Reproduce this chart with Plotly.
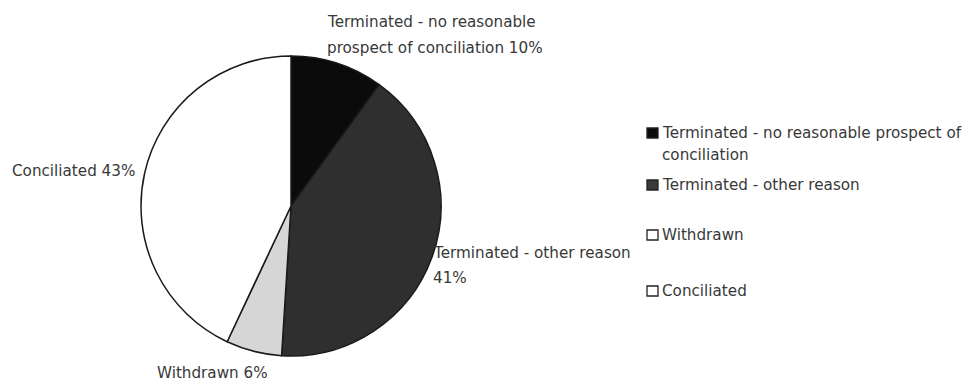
import plotly.graph_objects as go

# Outcome of finalised complaints
categories = [
    "Terminated - no reasonable prospect of conciliation",
    "Terminated - other reason",
    "Withdrawn",
    "Conciliated",
]
shares = [10, 41, 6, 43]
slice_colors = ["#0b0b0b", "#2f2f2f", "#d6d6d6", "#ffffff"]
legend_swatch = ["#0b0b0b", "#3a3a3a", "#ffffff", "#ffffff"]

W, H = 970, 381
FONT = "DejaVu Sans"
TXT = "#383838"
FS = 15.2


def px(x):
    return x / W


def py(y):
    return 1 - y / H


fig = go.Figure(
    go.Pie(
        labels=categories,
        values=shares,
        sort=False,
        direction="clockwise",
        rotation=0,
        textinfo="none",
        hoverinfo="label+percent",
        marker=dict(colors=slice_colors, line=dict(color="#1a1a1a", width=1.5)),
        domain=dict(x=[px(141), px(441)], y=[py(356), py(56)]),
        showlegend=False,
    )
)

annotations = []


def add_text(text, x, y, anchor="left"):
    annotations.append(
        dict(
            text=text, x=px(x), y=py(y), xref="paper", yref="paper",
            xanchor=anchor, yanchor="middle", showarrow=False,
            font=dict(family=FONT, size=FS, color=TXT), align="left",
        )
    )


# Slice labels (category + share)
add_text("Terminated - no reasonable", 325, 22)
add_text(f"prospect of conciliation {shares[0]}%", 325, 48)
add_text("Terminated - other reason", 431, 253)
add_text(f"{shares[1]}%", 431, 278)
add_text(f"{categories[2]} {shares[2]}%", 155, 373)
add_text(f"{categories[3]} {shares[3]}%", 10, 171)

# Legend: swatches with their category names
legend_rows = [
    (["Terminated - no reasonable prospect of", "conciliation"], 133),
    ([categories[1]], 185),
    ([categories[2]], 235),
    ([categories[3]], 291),
]
shapes = []
for (lines, y), fill in zip(legend_rows, legend_swatch):
    shapes.append(
        dict(
            type="rect", xref="paper", yref="paper",
            x0=px(647), x1=px(658), y0=py(y + 5), y1=py(y - 5),
            fillcolor=fill, line=dict(color="#222222", width=1.3),
        )
    )
    for i, line in enumerate(lines):
        add_text(line, 660, y + i * 22)

fig.update_layout(
    width=W,
    height=H,
    margin=dict(l=0, r=0, t=0, b=0),
    paper_bgcolor="#ffffff",
    plot_bgcolor="#ffffff",
    annotations=annotations,
    shapes=shapes,
)

fig.write_html("out.html")
